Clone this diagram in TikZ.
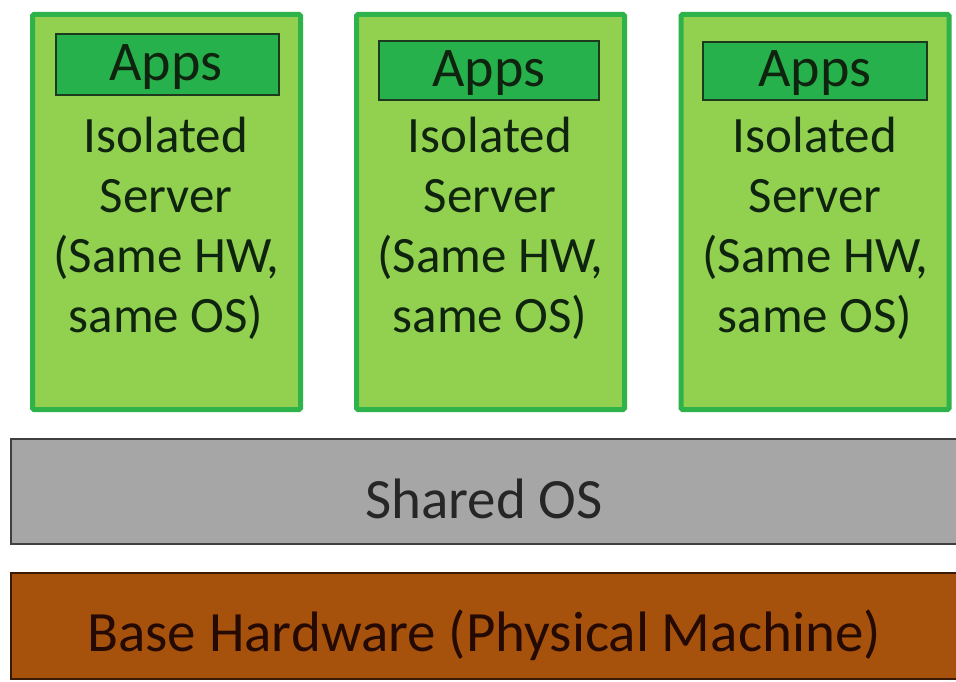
\documentclass[tikz,border=0pt]{standalone}
\usepackage{fontspec}
\setmainfont{Carlito}
\definecolor{lgreen}{HTML}{92D050}
\definecolor{gborder}{HTML}{2DB34A}
\definecolor{appfill}{HTML}{27B14D}
\definecolor{appborder}{HTML}{1C3A1E}
\definecolor{txtgreen}{HTML}{0F240E}
\definecolor{osfill}{HTML}{A6A6A6}
\definecolor{osborder}{HTML}{3F3F3F}
\definecolor{hwfill}{HTML}{A6520D}
\definecolor{hwborder}{HTML}{3A1A05}
\definecolor{hwtext}{HTML}{240A02}
\tikzset{
  server/.style={draw=gborder, fill=lgreen, line width=5pt, rounded corners=1.5pt, minimum width=268pt, minimum height=395pt, inner sep=0pt, outer sep=0pt},
  appbox/.style={draw=appborder, fill=appfill, line width=2.2pt, inner sep=0pt, outer sep=0pt},
  apptext/.style={inner sep=0pt, font=\fontsize{56}{60}\selectfont, text=txtgreen},
  srvtext/.style={align=center, inner sep=0pt, font=\fontsize{51}{60}\selectfont, text=txtgreen},
  layer/.style={line width=2.2pt, inner sep=0pt, outer sep=0pt, minimum width=947pt, minimum height=105pt},
  layertext/.style={inner sep=0pt, font=\fontsize{57}{60}\selectfont}
}
\begin{document}
\begin{tikzpicture}[x=1pt,y=-1pt]
\useasboundingbox (0,0) rectangle (956,682);
\fill[white] (0,0) rectangle (956,682);
% servers
\node[server] (s1) at (166.5,212) {};
\node[server] (s2) at (490.5,212) {};
\node[server] (s3) at (815,212) {};
% apps
\node[appbox, minimum width=223pt, minimum height=61pt] (a1) at (167.5,64.5) {};
\node[appbox, minimum width=220pt, minimum height=59pt] (a2) at (489,70.5) {};
\node[appbox, minimum width=224pt, minimum height=58pt] (a3) at (815,71) {};
\node[apptext] (a1t) at (166,67) {Apps};
\node[apptext] (a2t) at (489,73) {Apps};
\node[apptext] (a3t) at (815,73) {Apps};
% server texts
\node[srvtext] (t1) at (166,228) {Isolated\\Server\\(Same HW,\\same OS)};
\node[srvtext] (t2) at (490,228) {Isolated\\Server\\(Same HW,\\same OS)};
\node[srvtext] (t3) at (815,228) {Isolated\\Server\\(Same HW,\\same OS)};
% layers
\node[layer, draw=osborder, fill=osfill] (os) at (484.5,491.5) {};
\node[layer, draw=hwborder, fill=hwfill, minimum height=106pt] (hw) at (484.5,626) {};
\node[layertext, text=black!85] (ost) at (484,499) {Shared OS};
\node[layertext, text=hwtext] (hwt) at (484,635) {Base Hardware (Physical Machine)};
\end{tikzpicture}
\end{document}
